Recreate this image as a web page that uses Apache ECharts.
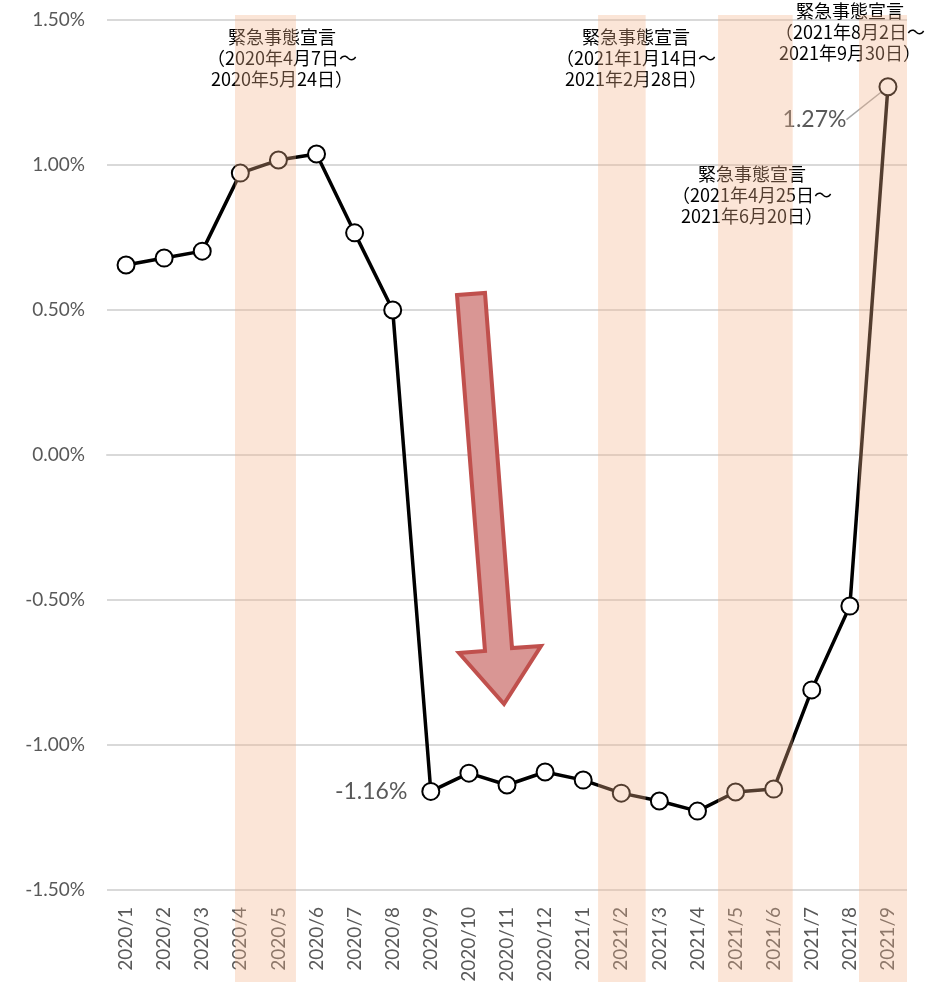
<!DOCTYPE html>
<html>
<head>
<meta charset="utf-8">
<script src="https://cdn.jsdelivr.net/npm/echarts@6/dist/echarts.min.js"></script>
<style>
  html, body { margin: 0; padding: 0; background: #fff; }
  #chart { width: 934px; height: 987px; }
</style>
</head>
<body>
<div id="chart"></div>
<script>
const months = [
  "2020/1", "2020/2", "2020/3", "2020/4", "2020/5", "2020/6", "2020/7",
  "2020/8", "2020/9", "2020/10", "2020/11", "2020/12", "2021/1", "2021/2",
  "2021/3", "2021/4", "2021/5", "2021/6", "2021/7", "2021/8", "2021/9",
];
const values = [
  0.655, 0.679, 0.703, 0.972, 1.017, 1.038, 0.766, 0.5, -1.16, -1.097,
  -1.138, -1.093, -1.121, -1.166, -1.193, -1.228, -1.162, -1.152, -0.81,
  -0.521, 1.27,
];
// emergency declaration periods, in category units along the x axis
const bandStart = [3.36, 12.89, 16.04, 19.74];
const bandEnd = [4.96, 14.14, 18.0, 21.0];
const notes = [
  "緊急事態宣言\n（2020年4月7日～\n2020年5月24日）",
  "緊急事態宣言\n（2021年1月14日～\n2021年2月28日）",
  "緊急事態宣言\n（2021年4月25日～\n2021年6月20日）",
  "緊急事態宣言\n（2021年8月2日～\n2021年9月30日）",
];

const chart = echarts.init(document.getElementById("chart"));
const jp = "'Noto Sans CJK JP', sans-serif";
const latin = "Lato, 'Noto Sans', sans-serif";

const noteText = (text, x, y) => ({
  type: "text",
  x: x,
  y: y,
  z: 1,
  style: {
    text: text,
    fill: "#000",
    font: "18px " + jp,
    lineHeight: 21,
    align: "center",
    verticalAlign: "top",
  },
});

const seriesData = values.map((v, i) => {
  if (i === 8) return { value: v, label: { show: true } };
  if (i === 20) {
    return {
      value: v,
      label: { show: true },
      labelLine: { show: true, lineStyle: { color: "#a6a6a6", width: 1.5 } },
    };
  }
  return v;
});

const option = {
  animation: false,
  grid: { left: 107, right: 27, top: 20, bottom: 97 },
  xAxis: [
    {
      type: "category",
      data: months,
      axisLine: { lineStyle: { color: "#d9d9d9", width: 2 } },
      axisTick: { show: false },
      axisLabel: {
        rotate: 90,
        margin: 17,
        color: "#595959",
        fontSize: 19,
        fontFamily: latin,
        interval: 0,
      },
    },
    { type: "value", min: 0, max: 21, show: false },
  ],
  yAxis: {
    type: "value",
    min: -1.5,
    max: 1.5,
    interval: 0.5,
    axisLine: { show: false },
    axisTick: { show: false },
    splitLine: { lineStyle: { color: "#d9d9d9", width: 2 } },
    axisLabel: {
      margin: 22,
      color: "#595959",
      fontSize: 19,
      fontFamily: latin,
      formatter: (v) => v.toFixed(2) + "%",
    },
  },
  graphic: [
    noteText(notes[0], 282, 27),
    noteText(notes[1], 636, 27),
    noteText(notes[2], 752, 164),
    noteText(notes[3], 850, 1),
    {
      type: "polygon",
      z: 5,
      shape: {
        points: [
          [457, 295], [485, 293], [512, 648], [541, 646],
          [504, 704], [459, 653], [485, 651],
        ],
      },
      style: { fill: "#d99694", stroke: "#c0504d", lineWidth: 4, lineJoin: "miter" },
    },
  ],
  series: [
    {
      type: "line",
      data: seriesData,
      z: 3,
      lineStyle: { color: "#000", width: 3.5 },
      symbol: "circle",
      symbolSize: 17,
      itemStyle: { color: "#fff", borderColor: "#000", borderWidth: 2 },
      label: {
        show: false,
        position: "left",
        distance: 14,
        color: "#595959",
        fontSize: 23,
        fontFamily: latin,
        formatter: (p) => p.value.toFixed(2) + "%",
      },
      labelLine: { show: false },
      labelLayout: (p) =>
        p.dataIndex === 20 ? { dx: -18, dy: 33 } : {},
    },
    {
      type: "custom",
      xAxisIndex: 1,
      z: 20,
      clip: false,
      silent: true,
      data: bandStart.map((s, i) => [s, bandEnd[i]]),
      renderItem: (params, api) => {
        const x0 = api.coord([api.value(0), 0])[0];
        const x1 = api.coord([api.value(1), 0])[0];
        const cs = params.coordSys;
        return {
          type: "rect",
          shape: { x: x0, y: cs.y - 5, width: x1 - x0, height: cs.height + 97 },
          style: { fill: "rgba(242,178,138,0.34)" },
        };
      },
    },
  ],
};

option && chart.setOption(option);
</script>
</body>
</html>
